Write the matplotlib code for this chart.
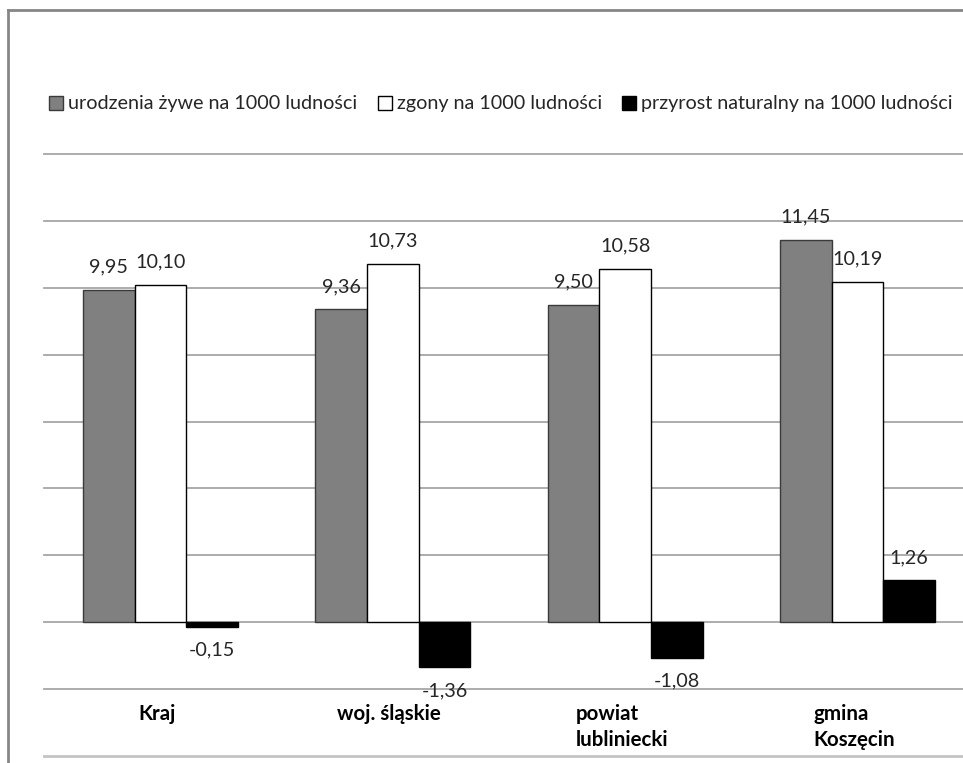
import matplotlib
matplotlib.use("Agg")
import matplotlib.pyplot as plt
from matplotlib.patches import Patch
from matplotlib.lines import Line2D
import numpy as np

plt.rcParams['font.family'] = ['Lato', 'DejaVu Sans']

categories = ["Kraj", "woj. śląskie", "powiat\nlubliniecki", "gmina\nKoszęcin"]
series_names = ["urodzenia żywe na 1000 ludności", "zgony na 1000 ludności",
                "przyrost naturalny na 1000 ludności"]
births = [9.95, 9.36, 9.50, 11.45]
deaths = [10.10, 10.73, 10.58, 10.19]
growth = [-0.15, -1.36, -1.08, 1.26]

colors = ["#808080", "#ffffff", "#000000"]
edges = ["#3a3a3a", "#000000", "#000000"]

W, H = 963, 763
fig = plt.figure(figsize=(W / 100, H / 100), dpi=100)
# plot area in pixels
left_px, right_px = 44.3, 973.7
top_px, bot_px = 154.4, 755.6
ax = fig.add_axes([left_px / W, (H - bot_px) / H, (right_px - left_px) / W, (bot_px - top_px) / H])
ax.set_xlim(-0.5, 3.5)
ax.set_ylim(-4, 14)
for s in ax.spines.values():
    s.set_visible(False)
ax.set_xticks([])
ax.set_yticks([])
for yv in np.arange(-4, 15, 2):
    ax.axhline(yv, color="#a6a6a6" if yv != -4 else "#c4c4c4", lw=1.3 if yv != -4 else 2.0,
               zorder=0, clip_on=False)

x = np.arange(len(categories))
bw = 0.222
data = [births, deaths, growth]
for i, vals in enumerate(data):
    xs = x + (i - 1) * bw
    ax.bar(xs, vals, width=bw, color=colors[i], edgecolor=edges[i], linewidth=1.0, zorder=2)
    for xi, v in zip(xs, vals):
        lab = f"{v:.2f}".replace(".", ",")
        if v >= 0:
            ax.annotate(lab, (xi, v), xytext=(0, 10), textcoords="offset points",
                        ha="center", va="bottom", fontsize=14.2, color="#262626", zorder=3)
        else:
            ax.annotate(lab, (xi, v), xytext=(0, -10.5), textcoords="offset points",
                        ha="center", va="top", fontsize=14.2, color="#262626", zorder=3)

for xi, c in zip(x, categories):
    ax.text(xi - 0.015, -2.45, c, ha="center", va="top", multialignment="left",
            fontsize=14.8, fontweight="bold", color="#000000", linespacing=1.4)

handles = [Patch(facecolor=colors[i], edgecolor=edges[i], linewidth=1.0) for i in range(3)]
fig.legend(handles, series_names, loc="center", bbox_to_anchor=(501 / W, 1 - 104 / H),
           ncol=3, frameon=False, fontsize=14.2, handlelength=0.7, handleheight=0.7,
           handletextpad=0.25, columnspacing=1.05, labelcolor="#262626")

# chart border (left & top visible)
fig.add_artist(Line2D([8 / W, 8 / W], [0, 1 - 10 / H], transform=fig.transFigure,
                      color="#868686", lw=2))
fig.add_artist(Line2D([8 / W, 1], [1 - 10 / H, 1 - 10 / H], transform=fig.transFigure,
                      color="#868686", lw=2))

fig.savefig("out.png", dpi=100)
